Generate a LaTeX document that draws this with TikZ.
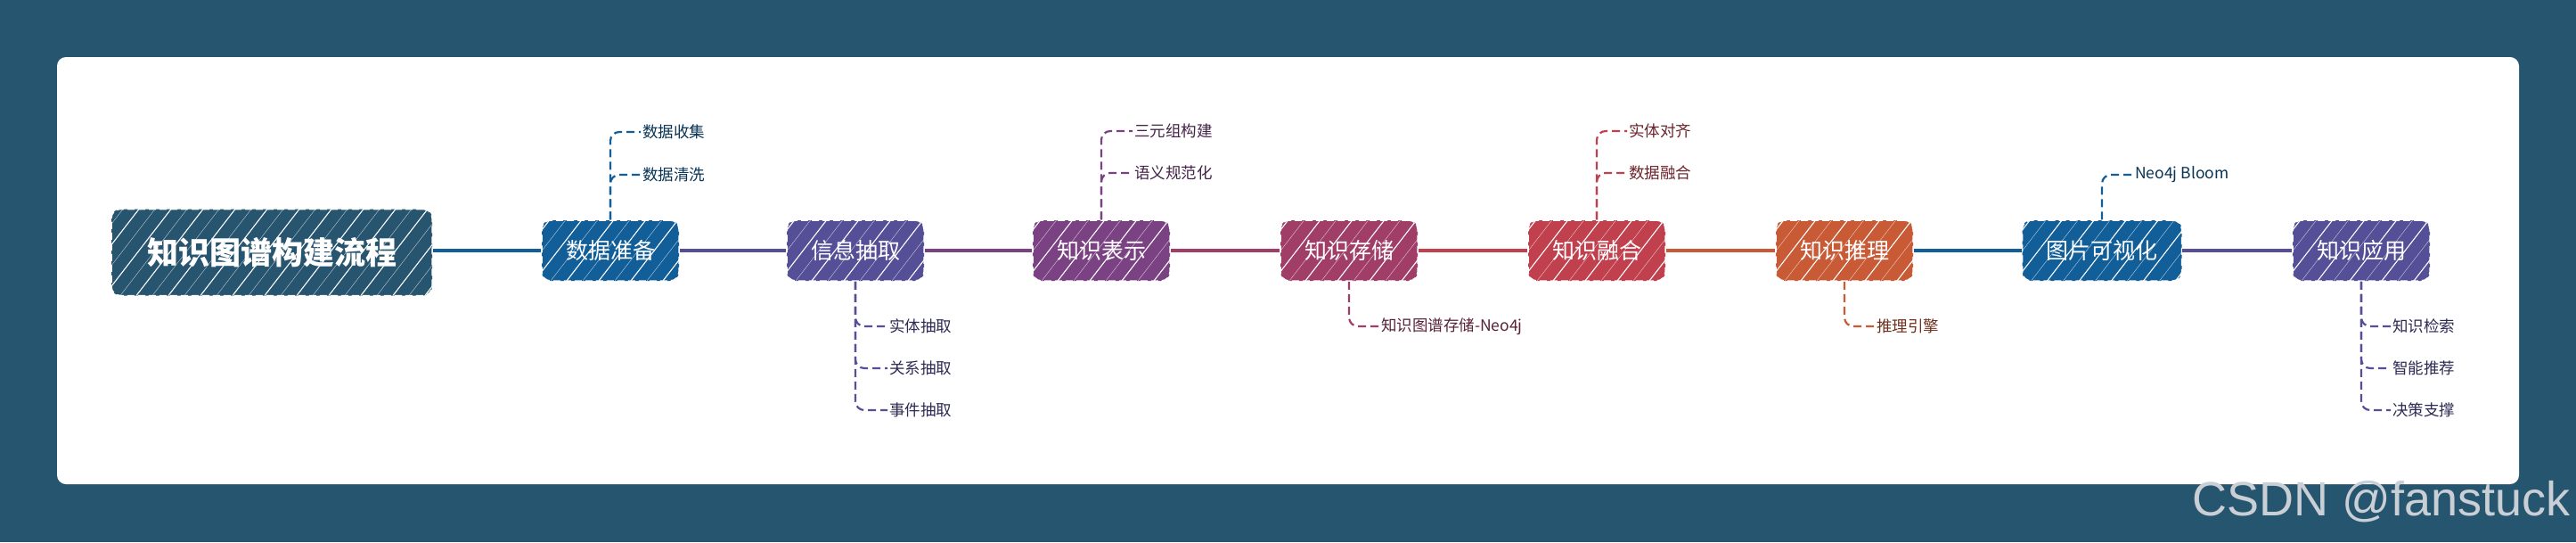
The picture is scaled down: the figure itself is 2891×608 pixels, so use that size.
\documentclass[tikz,border=0pt]{standalone}
\usepackage{fontspec}
\setmainfont{Noto Sans CJK SC}
\newfontfamily\wmfont{Liberation Sans}
\usetikzlibrary{positioning}

\definecolor{bgblue}{HTML}{26556F}
\definecolor{rootc}{HTML}{27546E}
\definecolor{cblue}{HTML}{115E99}
\definecolor{cindigo}{HTML}{544F96}
\definecolor{cpurple}{HTML}{7B4283}
\definecolor{cmagenta}{HTML}{A03E68}
\definecolor{cred}{HTML}{C1404E}
\definecolor{corange}{HTML}{C85A36}
\definecolor{wmgray}{HTML}{C9CFD5}

\begin{document}
\begin{tikzpicture}[x=1pt,y=-1pt,
  every node/.style={font=\fontsize{17.5}{20}\selectfont},
  hatch/.style={path picture={
    \foreach \k in {0,...,14}{
      \draw[white,solid,line width=1.1pt] ([xshift=\k*36pt-80pt]path picture bounding box.south west) -- ++(85pt,110pt);
      \draw[white,solid,line width=0.4pt,opacity=0.7] ([xshift=\k*36pt-62pt]path picture bounding box.south west) -- ++(85pt,110pt);}}},
  stagebox/.style={fill=#1,draw=white,dash pattern=on 8pt off 4pt,line width=1.5pt,
    rounded corners=10pt,text=white,font=\fontsize{25}{25}\selectfont,
    inner xsep=27pt,minimum height=68pt,hatch},
  leaf/.style={text=#1!55!black,anchor=west,inner sep=2pt},
  twig/.style={draw=#1,dash pattern=on 9pt off 5pt,line width=2.2pt,rounded corners=10pt},
  trunk/.style={draw=#1,line width=3.5pt}]
  \useasboundingbox (0,0) rectangle (2891,608);
  % card
  \fill[bgblue] (0,0) rectangle (2891,608);
  \fill[white,rounded corners=10pt] (64,64) rectangle (2827,543);
  % stages
  \node[stagebox=rootc,font=\fontsize{35}{35}\selectfont\bfseries,minimum height=97pt,inner xsep=40pt]
    (root) at (305,283) {知识图谱构建流程};
  \node[stagebox=cblue] (prep) at (685,281) {数据准备};
  \node[stagebox=cindigo] (extr) at (960,281) {信息抽取};
  \node[stagebox=cpurple] (repr) at (1236,281) {知识表示};
  \node[stagebox=cmagenta] (stor) at (1514,281) {知识存储};
  \node[stagebox=cred] (fuse) at (1792,281) {知识融合};
  \node[stagebox=corange] (infer) at (2070,281) {知识推理};
  \node[stagebox=cblue] (vis) at (2359,281) {图片可视化};
  \node[stagebox=cindigo] (app) at (2650,281) {知识应用};
  \draw[trunk=cblue] (root.east |- prep) -- (prep);
  \draw[trunk=cindigo] (prep) -- (extr);
  \draw[trunk=cpurple] (extr) -- (repr);
  \draw[trunk=cmagenta] (repr) -- (stor);
  \draw[trunk=cred] (stor) -- (fuse);
  \draw[trunk=corange] (fuse) -- (infer);
  \draw[trunk=cblue] (infer) -- (vis);
  \draw[trunk=cindigo] (vis) -- (app);
  % leaves
  \node[leaf=cblue] (prep1) at (719,148) {数据收集};
  \node[leaf=cblue] (prep2) at (719,196) {数据清洗};
  \draw[twig=cblue] (prep.north) |- (prep1.west);
  \draw[twig=cblue] (prep.north) |- (prep2.west);
  \node[leaf=cindigo] (extr1) at (996,366) {实体抽取};
  \node[leaf=cindigo] (extr2) at (996,413) {关系抽取};
  \node[leaf=cindigo] (extr3) at (996,460) {事件抽取};
  \foreach \n in {extr1,extr2,extr3}
    \draw[twig=cindigo] (extr.south) |- (\n.west);
  \node[leaf=cpurple] (repr1) at (1271,147) {三元组构建};
  \node[leaf=cpurple] (repr2) at (1271,194) {语义规范化};
  \draw[twig=cpurple] (repr.north) |- (repr1.west);
  \draw[twig=cpurple] (repr.north) |- (repr2.west);
  \node[leaf=cmagenta] (stor1) at (1548,366) {知识图谱存储-Neo4j};
  \draw[twig=cmagenta] (stor.south) |- (stor1.west);
  \node[leaf=cred] (fuse1) at (1826,147) {实体对齐};
  \node[leaf=cred] (fuse2) at (1826,194) {数据融合};
  \draw[twig=cred] (fuse.north) |- (fuse1.west);
  \draw[twig=cred] (fuse.north) |- (fuse2.west);
  \node[leaf=corange] (infer1) at (2104,366) {推理引擎};
  \draw[twig=corange] (infer.south) |- (infer1.west);
  \node[leaf=cblue] (vis1) at (2394,196) {Neo4j Bloom};
  \draw[twig=cblue] (vis.north) |- (vis1.west);
  \node[leaf=cindigo] (app1) at (2683,366) {知识检索};
  \node[leaf=cindigo] (app2) at (2683,413) {智能推荐};
  \node[leaf=cindigo] (app3) at (2683,460) {决策支撑};
  \foreach \n in {app1,app2,app3}
    \draw[twig=cindigo] (app.south) |- (\n.west);
  % watermark
  \node[font=\wmfont\fontsize{54}{54}\selectfont,text=wmgray,anchor=base east,inner sep=0pt]
    (mark) at (2885,578) {CSDN @fanstuck};
\end{tikzpicture}
\end{document}
